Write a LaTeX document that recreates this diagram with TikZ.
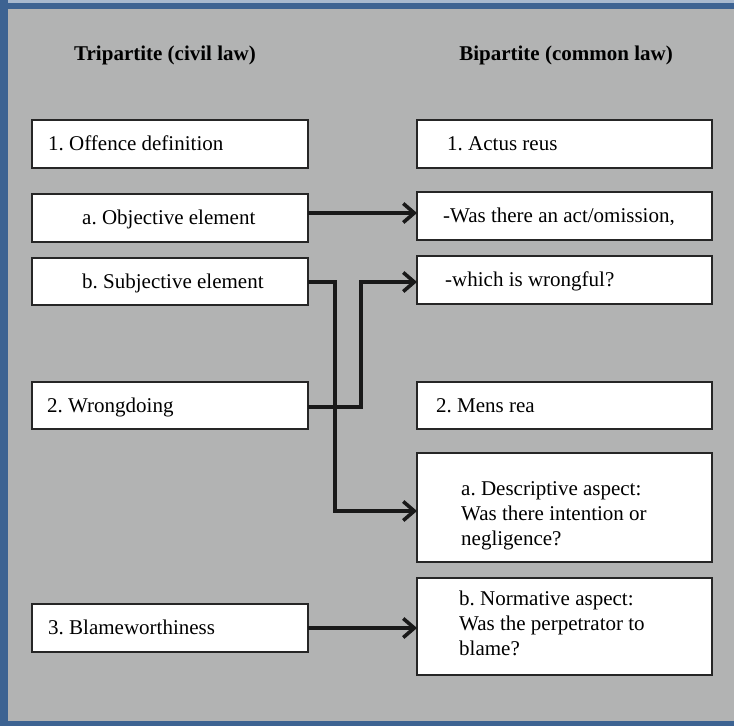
\documentclass[tikz,border=0pt]{standalone}
\usepackage{fontspec}
\setmainfont{Liberation Serif}
\usetikzlibrary{arrows.meta}
\frenchspacing

\definecolor{panelgray}{HTML}{B2B3B3}
\definecolor{frameblue}{HTML}{3D6392}
\definecolor{edgegray}{HTML}{262626}

\begin{document}
\begin{tikzpicture}[x=1bp,y=-1bp,
  box/.style={draw=edgegray, line width=1.1bp, fill=white, anchor=north west,
    inner sep=0pt, outer sep=0pt},
  txt/.style={anchor=base west, inner sep=0pt, text=black,
    font=\fontsize{21bp}{25bp}\selectfont},
  head/.style={anchor=base, inner sep=0pt, text=black,
    font=\fontsize{21bp}{25bp}\selectfont\bfseries},
  link/.style={line width=3.6bp, draw=black!90},
  linkarrow/.style={link, -{Straight Barb[length=11bp, width=19bp, line width=3.6bp]}}
]
% panel and frame
\useasboundingbox (0,0) rectangle (734,726);
\fill[panelgray] (0,0) rectangle (734,726);
\fill[frameblue!45!white] (0,0) rectangle (734,3);
\fill[frameblue] (0,3) rectangle (734,9);
\fill[frameblue] (0,0) rectangle (8,726);
\fill[frameblue] (0,721) rectangle (734,726);

% column headings
\node[head] (hl) at (165,61) {Tripartite (civil law)};
\node[head] (hr) at (566,61) {Bipartite (common law)};

% left column boxes
\node[box, minimum width=276bp, minimum height=48bp] (o1) at (32,120) {};
\node[box, minimum width=276bp, minimum height=48bp] (oa) at (32,194) {};
\node[box, minimum width=276bp, minimum height=47bp] (ob) at (32,258) {};
\node[box, minimum width=276bp, minimum height=47bp] (o2) at (32,382) {};
\node[box, minimum width=276bp, minimum height=48bp] (o3) at (32,604) {};

% right column boxes
\node[box, minimum width=295bp, minimum height=48bp] (r1) at (417,120) {};
\node[box, minimum width=295bp, minimum height=48bp] (rw) at (417,192) {};
\node[box, minimum width=295bp, minimum height=48bp] (rh) at (417,256) {};
\node[box, minimum width=295bp, minimum height=47bp] (r2) at (417,382) {};
\node[box, minimum width=295bp, minimum height=109bp] (ra) at (417,453) {};
\node[box, minimum width=295bp, minimum height=97bp] (rb) at (417,578) {};

% left column texts
\node[txt] (o1t) at (48,150) {1. Offence definition};
\node[txt] (oat) at (82,224) {a. Objective element};
\node[txt] (obt) at (82,288) {b. Subjective element};
\node[txt] (o2t) at (47,412) {2. Wrongdoing};
\node[txt] (o3t) at (48,634) {3. Blameworthiness};

% right column texts
\node[txt] (r1t) at (447,150) {1. Actus reus};
\node[txt] (rwt) at (443,222) {-Was there an act/omission,};
\node[txt] (rht) at (445,286) {-which is wrongful?};
\node[txt] (r2t) at (436,412) {2. Mens rea};
\node[txt] (rat1) at (461,495) {a. Descriptive aspect:};
\node[txt] (rat2) at (461,520) {Was there intention or};
\node[txt] (rat3) at (461,545) {negligence?};
\node[txt] (rbt1) at (459,605) {b. Normative aspect:};
\node[txt] (rbt2) at (459,630) {Was the perpetrator to};
\node[txt] (rbt3) at (459,655) {blame?};

% routing points of the connectors
\coordinate (ajoin) at ([yshift=5bp]oa.east);
\coordinate (bdrop) at (335,282);
\coordinate (bturn) at (335,511);
\coordinate (wrise) at (361,407);
\coordinate (wturn) at (361,282);

% connectors
\draw[linkarrow] (ajoin) -- (ajoin -| rw.west);
\draw[linkarrow] (ob.east |- bdrop) -- (bdrop) -- (bturn) -- (bturn -| ra.west);
\draw[linkarrow] (o2.east |- wrise) -- (wrise) -- (wturn) -- (wturn -| rh.west);
\draw[linkarrow] (o3.east) -- (o3.east -| rb.west);
\end{tikzpicture}
\end{document}
